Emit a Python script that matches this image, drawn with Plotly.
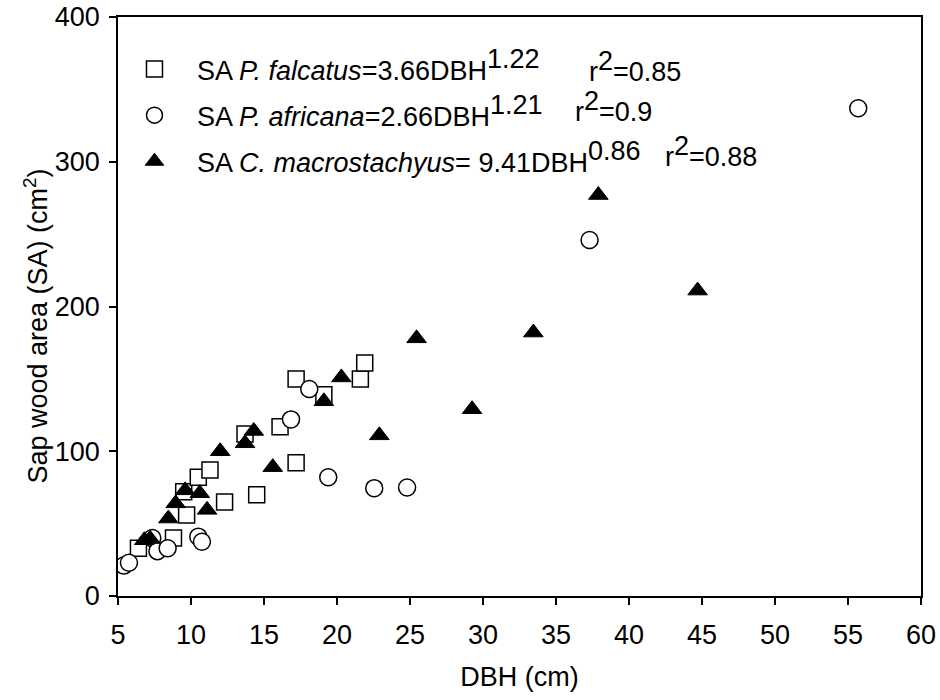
import plotly.graph_objects as go

# P. falcatus (squares)
pf_dbh = [6.4, 8.8, 9.7, 9.5, 10.5, 11.3, 12.3, 13.7, 14.5, 16.1, 17.2, 17.2, 19.1, 21.6, 21.9]
pf_sa = [33, 40, 56, 72, 82, 87, 65, 112, 70, 117, 92, 150, 139, 150, 161]

# P. africana (circles)
pa_dbh = [5.4, 5.75, 7.35, 7.7, 8.4, 10.5, 10.75, 16.85, 18.1, 19.4, 22.55, 24.8, 37.3, 55.7]
pa_sa = [21, 23, 40, 31, 33, 41, 37.5, 122, 143, 82, 74.5, 75, 246, 337]

# C. macrostachyus (filled triangles)
cm_dbh = [6.8, 7.2, 8.45, 8.95, 9.6, 10.6, 11.1, 12.0, 13.7, 14.3, 15.6, 19.1, 20.3, 22.9, 25.45, 29.25, 33.45, 37.9, 44.7]
cm_sa = [38.5, 39.5, 53.5, 64, 73, 71, 59.5, 100, 105.5, 114, 89, 134.5, 151, 111, 178, 129, 182, 277, 211]

FS = 27
FONT = "Arial, 'Liberation Sans', sans-serif"


def sup(t):
    return f"<sup><span style='font-size:{FS}px'>{t}</span></sup>"


PAD = "\u00a0\u00a0\u00a0"
names = [
    PAD + "SA <i>P. falcatus</i>=3.66DBH" + sup("1.22"),
    PAD + "SA <i>P. africana</i>=2.66DBH" + sup("1.21"),
    PAD + "SA <i>C. macrostachyus</i>=\u00a09.41DBH" + sup("0.86"),
]
r2_texts = ["r" + sup("2") + "=0.85", "r" + sup("2") + "=0.9", "r" + sup("2") + "=0.88"]
y_title = "Sap wood area (SA) (cm<sup>2</sup>)"
x_title = "DBH (cm)"

x_ticks = [5, 10, 15, 20, 25, 30, 35, 40, 45, 50, 55, 60]
y_ticks = [0, 100, 200, 300, 400]

# plot area in pixels (for placing text annotations)
L, R, T, B = 117.5, 921, 17, 596
W, H = R - L, B - T


def px_x(p):
    return (p - L) / W


def px_y(p):
    return (B - p) / H


fig = go.Figure()
fig.add_trace(go.Scatter(x=pf_dbh, y=pf_sa, mode="markers", name=names[0], legendgroup="a",
                         marker=dict(symbol="square", size=16, color="white",
                                     line=dict(color="black", width=1.5))))
fig.add_trace(go.Scatter(x=pa_dbh, y=pa_sa, mode="markers", name=names[1], legendgroup="b",
                         marker=dict(symbol="circle", size=17, color="white",
                                     line=dict(color="black", width=1.5))))
fig.add_trace(go.Scatter(x=cm_dbh, y=cm_sa, mode="markers", name=names[2], legendgroup="c",
                         marker=dict(symbol="triangle-up", size=17, color="black",
                                     line=dict(color="black", width=1))))

axis_common = dict(showline=True, linecolor="black", linewidth=1.5, mirror=True,
                   ticks="outside", ticklen=7, tickcolor="black", tickwidth=1.5,
                   showgrid=False, zeroline=False, automargin=False,
                   tickfont=dict(family=FONT, size=FS, color="black"))

r2_pos = [(587, 82), (573, 122), (663, 167)]  # left edge x, baseline y (pixels)
annotations = []
for txt, (ax_, by) in zip(r2_texts, r2_pos):
    annotations.append(dict(text=txt, xref="paper", yref="paper", x=px_x(ax_), y=px_y(by + 7),
                            xanchor="left", yanchor="bottom", showarrow=False,
                            font=dict(family=FONT, size=FS, color="black")))
annotations.append(dict(text=y_title, xref="paper", yref="paper", x=px_x(35), y=px_y(326),
                        xanchor="center", yanchor="middle", textangle=-90, showarrow=False,
                        font=dict(family=FONT, size=FS, color="black")))

fig.update_layout(
    width=940, height=700,
    margin=dict(l=L, r=940 - R, t=T, b=700 - B),
    plot_bgcolor="white", paper_bgcolor="white",
    font=dict(family=FONT, size=FS, color="black"),
    xaxis=dict(range=[5, 60], tickvals=x_ticks, ticklabelstandoff=7,
               title=dict(text=x_title, font=dict(family=FONT, size=FS), standoff=18),
               **axis_common),
    yaxis=dict(range=[0, 400], tickvals=y_ticks, ticklabelstandoff=4,
               **axis_common),
    showlegend=True,
    legend=dict(x=px_x(134), y=px_y(45), xanchor="left", yanchor="top", bgcolor="rgba(0,0,0,0)",
                font=dict(family=FONT, size=FS, color="black"),
                tracegroupgap=8, itemsizing="trace"),
    annotations=annotations,
)

fig.write_html("out.html")
